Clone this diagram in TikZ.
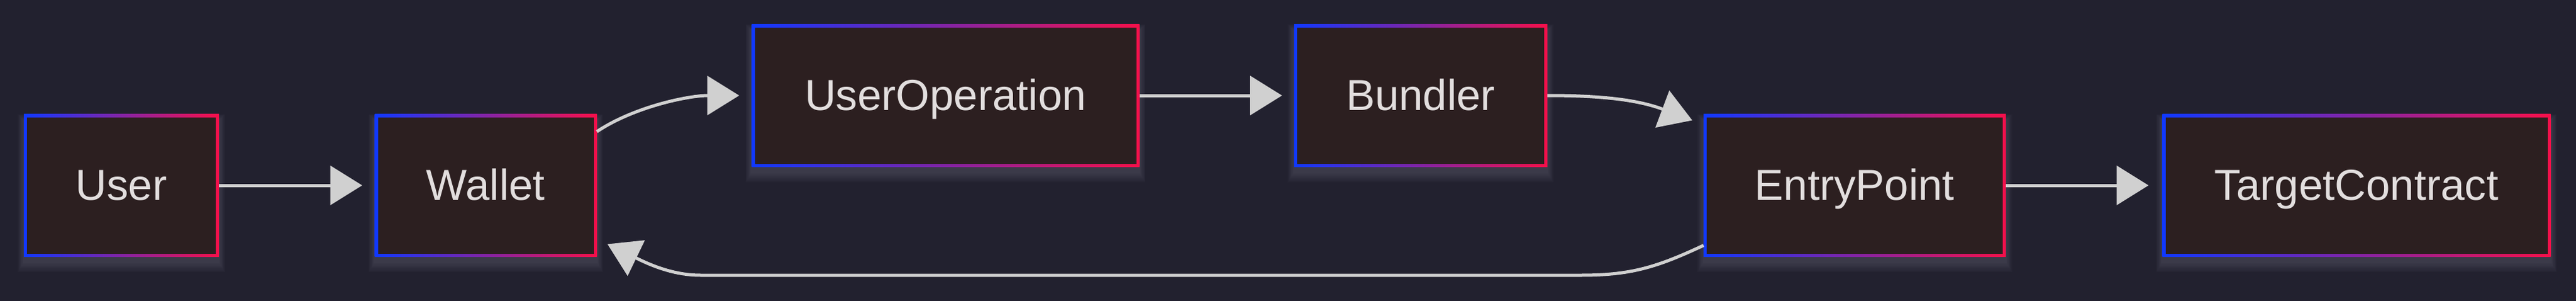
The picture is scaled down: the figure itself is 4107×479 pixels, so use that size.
\documentclass[tikz,border=0pt]{standalone}
\usepackage{fontspec}
\usetikzlibrary{arrows.meta,calc}
\newfontfamily\boxfont{Liberation Sans}
\definecolor{bgc}{HTML}{22212F}
\definecolor{boxfill}{HTML}{2C1F20}
\definecolor{bblue}{HTML}{1038FF}
\definecolor{bred}{HTML}{F5104A}
\definecolor{txtc}{HTML}{E2DEDE}
\definecolor{linec}{HTML}{D0D0D0}
\definecolor{shadowc}{HTML}{8A8A9C}
\pgfdeclarelayer{bglayer}
\pgfdeclarelayer{shadowlayer}
\pgfsetlayers{bglayer,shadowlayer,main}
\newcommand\mkshadow[1]{%
  \begin{pgfonlayer}{shadowlayer}
    \foreach \e in {2,4,...,16}{%
      \fill[shadowc, opacity=0.04] ($(#1.north west)+({-0.6*\e},{10-0.6*\e})$) rectangle ($(#1.south east)+({0.6*\e},{8+\e})$);
    }
  \end{pgfonlayer}}
\tikzset{
  box/.style={rectangle, inner sep=0pt, outer sep=0pt, minimum height=227pt,
    text height=60pt, text depth=14pt,
    left color=bblue, right color=bred, text=txtc,
    font={\boxfont\fontsize{69}{80}\selectfont},
    path picture={\fill[boxfill] ([shift={(5pt,-5pt)}]path picture bounding box.north west) rectangle ([shift={(-5pt,5pt)}]path picture bounding box.south east);}},
  conn/.style={draw=linec, line width=5pt, -{Triangle[length=51pt,width=62pt]}},
}
\begin{document}
\begin{tikzpicture}[x=1pt,y=-1pt]
\useasboundingbox (0,0) rectangle (4107,479);
\begin{pgfonlayer}{bglayer}
  \fill[bgc] (0,0) rectangle (4107,479);
\end{pgfonlayer}

\node[box, minimum width=311pt] (user) at (193.5,295) {User};
\node[box, minimum width=354pt] (wallet) at (774.5,295) {Wallet};
\node[box, minimum width=618pt] (userop) at (1507.5,152) {UserOperation};
\node[box, minimum width=404pt] (bundler) at (2265,152) {Bundler};
\node[box, minimum width=482pt] (entry) at (2957,295) {EntryPoint};
\node[box, minimum width=619pt] (target) at (3757,295) {TargetContract};

\mkshadow{user}
\mkshadow{wallet}
\mkshadow{userop}
\mkshadow{bundler}
\mkshadow{entry}
\mkshadow{target}

\coordinate (b1) at (2520,438);
\coordinate (b2) at (1117,438);

\draw[conn] (user.east) -- ([xshift=-20pt]wallet.west);
\draw[conn] ([yshift=-28pt]wallet.north east) .. controls +(60,-40) and +(-80,0) .. ([xshift=-20pt]userop.west);
\draw[conn] (userop.east) -- ([xshift=-19pt]bundler.west);
\draw[conn] (bundler.east) .. controls +(90,0) and +(-85,-32) .. ([shift={(-18pt,-10pt)}]entry.north west);
\draw[conn] (entry.east) -- ([xshift=-22pt]target.west);
\draw[conn] ([yshift=18pt]entry.south west) .. controls +(-75,35) and +(80,0) .. (b1) -- (b2) .. controls +(-47,0) and +(62,30) .. ([shift={(17pt,20pt)}]wallet.south east);
\end{tikzpicture}
\end{document}
